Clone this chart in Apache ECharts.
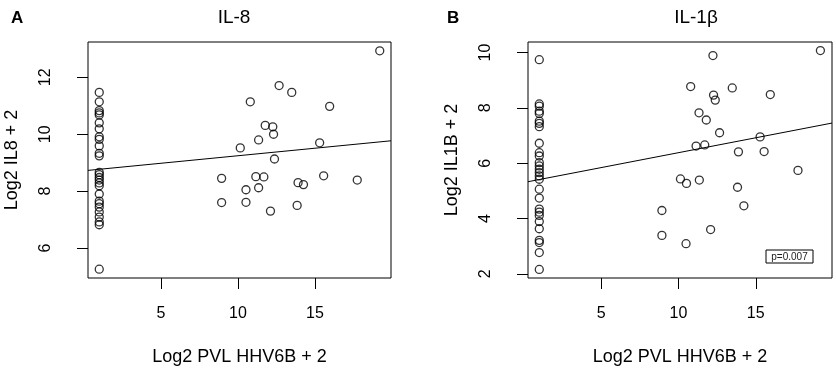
<!DOCTYPE html>
<html>
<head>
<meta charset="utf-8">
<script src="https://cdn.jsdelivr.net/npm/echarts@6/dist/echarts.min.js"></script>
<style>
html, body { margin: 0; padding: 0; background: #fff; }
#chart { width: 836px; height: 371px; }
</style>
</head>
<body>
<div id="chart"></div>
<script>
// axis ticks
var xTicks = [5, 10, 15];
var il8Ticks = [6, 8, 10, 12];
var il1bTicks = [2, 4, 6, 8, 10];

// IL-8: patients with undetectable PVL (x = 1)
var il8Undet = [11.47, 11.14, 10.83, 10.75, 10.68, 10.40, 10.19, 9.91, 9.82, 9.59, 9.33, 9.24,
    8.66, 8.58, 8.48, 8.39, 8.29, 8.19, 7.90, 7.65, 7.56, 7.44, 7.27, 7.09, 6.92, 6.82, 5.26];
// IL-8: patients with detectable PVL
var il8X = [19.2, 12.67, 13.49, 10.80, 15.95, 11.77, 12.26, 12.31, 11.34, 10.15, 15.30, 12.37, 8.94,
    11.16, 11.68, 15.56, 17.74, 13.90, 14.25, 10.52, 11.34, 8.94, 10.52, 12.11, 13.84];
var il8Y = [12.93, 11.71, 11.47, 11.14, 10.98, 10.31, 10.26, 10.0, 9.80, 9.52, 9.70, 9.13, 8.45,
    8.51, 8.50, 8.54, 8.39, 8.30, 8.23, 8.05, 8.12, 7.60, 7.61, 7.30, 7.50];
var il8Fit = [[0.27, 8.73], [19.93, 9.77]];

// IL-1b
var il1bUndet = [9.74, 8.14, 8.06, 7.88, 7.80, 7.52, 7.44, 7.32, 6.72, 6.38, 6.26, 6.02, 5.90, 5.78,
    5.66, 5.54, 5.42, 5.06, 4.74, 4.34, 4.23, 4.11, 3.89, 3.63, 3.21, 3.13, 2.77, 2.16];
var il1bX = [19.18, 12.23, 10.79, 13.48, 15.94, 12.27, 12.38, 11.33, 11.80, 12.66, 15.28, 11.14, 11.70,
    13.88, 15.54, 17.73, 10.13, 10.52, 11.35, 13.82, 14.23, 8.93, 8.93, 12.08, 10.49];
var il1bY = [10.07, 9.89, 8.77, 8.72, 8.48, 8.46, 8.28, 7.82, 7.56, 7.10, 6.95, 6.62, 6.66,
    6.41, 6.42, 5.74, 5.43, 5.27, 5.39, 5.13, 4.46, 4.29, 3.39, 3.60, 3.09];
var il1bFit = [[0.27, 5.33], [19.93, 7.45]];

var font = 'Liberation Sans, Arial, sans-serif';

function points(undet, xs, ys) {
    var out = undet.map(function (v) { return [1, v]; });
    xs.forEach(function (x, i) { out.push([x, ys[i]]); });
    return out;
}

function xAxisFor(idx) {
    return {
        type: 'value', gridIndex: idx, min: 0.27, max: 19.93,
        axisLine: { show: false }, splitLine: { show: false },
        axisTick: { show: true, customValues: xTicks, length: 11, lineStyle: { color: '#000' } },
        axisLabel: { customValues: xTicks, margin: 28, fontSize: 16, color: '#000', fontFamily: font },
        name: 'Log2 PVL HHV6B + 2', nameLocation: 'middle', nameGap: 70,
        nameTextStyle: { fontSize: 18, color: '#000', fontFamily: font }
    };
}

function yAxisFor(idx, min, max, ticks, name) {
    return {
        type: 'value', gridIndex: idx, min: min, max: max,
        axisLine: { show: false }, splitLine: { show: false },
        axisTick: { show: true, customValues: ticks, length: 11, lineStyle: { color: '#000' } },
        axisLabel: { customValues: ticks, rotate: 90, margin: 34, fontSize: 16, color: '#000', fontFamily: font },
        name: name, nameLocation: 'middle', nameGap: 67,
        nameTextStyle: { fontSize: 18, color: '#000', fontFamily: font }
    };
}

var circle = { color: 'transparent', borderColor: '#000', borderWidth: 1.3 };

var chart = echarts.init(document.getElementById('chart'));
var option = {
    animation: false,
    backgroundColor: '#fff',
    title: [
        { text: 'A', left: 6, top: 5, textStyle: { fontSize: 17, fontWeight: 'bold', color: '#000', fontFamily: font } },
        { text: 'B', left: 442, top: 5, textStyle: { fontSize: 17, fontWeight: 'bold', color: '#000', fontFamily: font } },
        { text: 'IL-8', left: 229, top: 3, textAlign: 'center', textStyle: { fontSize: 19, fontWeight: 'normal', color: '#000', fontFamily: font } },
        { text: 'IL-1β', left: 691, top: 3, textAlign: 'center', textStyle: { fontSize: 19, fontWeight: 'normal', color: '#000', fontFamily: font } }
    ],
    grid: [
        { left: 88, top: 42, width: 303, height: 237, show: true, borderColor: '#000', borderWidth: 1, backgroundColor: 'transparent' },
        { left: 528, top: 42, width: 304, height: 237, show: true, borderColor: '#000', borderWidth: 1, backgroundColor: 'transparent' }
    ],
    xAxis: [xAxisFor(0), xAxisFor(1)],
    yAxis: [
        yAxisFor(0, 4.95, 13.24, il8Ticks, 'Log2 IL8 + 2'),
        yAxisFor(1, 1.85, 10.38, il1bTicks, 'Log2 IL1B + 2')
    ],
    graphic: [
        { type: 'rect', shape: { x: 766, y: 250, width: 47, height: 13 }, style: { fill: '#fff', stroke: '#000', lineWidth: 1 }, z: 10 },
        { type: 'text', x: 789.5, y: 257, z: 11, style: { text: 'p=0.007', fontSize: 10, fontFamily: font, fill: '#222', align: 'center', verticalAlign: 'middle' } }
    ],
    series: [
        { type: 'scatter', xAxisIndex: 0, yAxisIndex: 0, symbol: 'circle', symbolSize: 8, itemStyle: circle, data: points(il8Undet, il8X, il8Y) },
        { type: 'line', xAxisIndex: 0, yAxisIndex: 0, symbol: 'none', lineStyle: { color: '#000', width: 1 }, data: il8Fit },
        { type: 'scatter', xAxisIndex: 1, yAxisIndex: 1, symbol: 'circle', symbolSize: 8, itemStyle: circle, data: points(il1bUndet, il1bX, il1bY) },
        { type: 'line', xAxisIndex: 1, yAxisIndex: 1, symbol: 'none', lineStyle: { color: '#000', width: 1 }, data: il1bFit }
    ]
};
chart.setOption(option);
</script>
</body>
</html>
